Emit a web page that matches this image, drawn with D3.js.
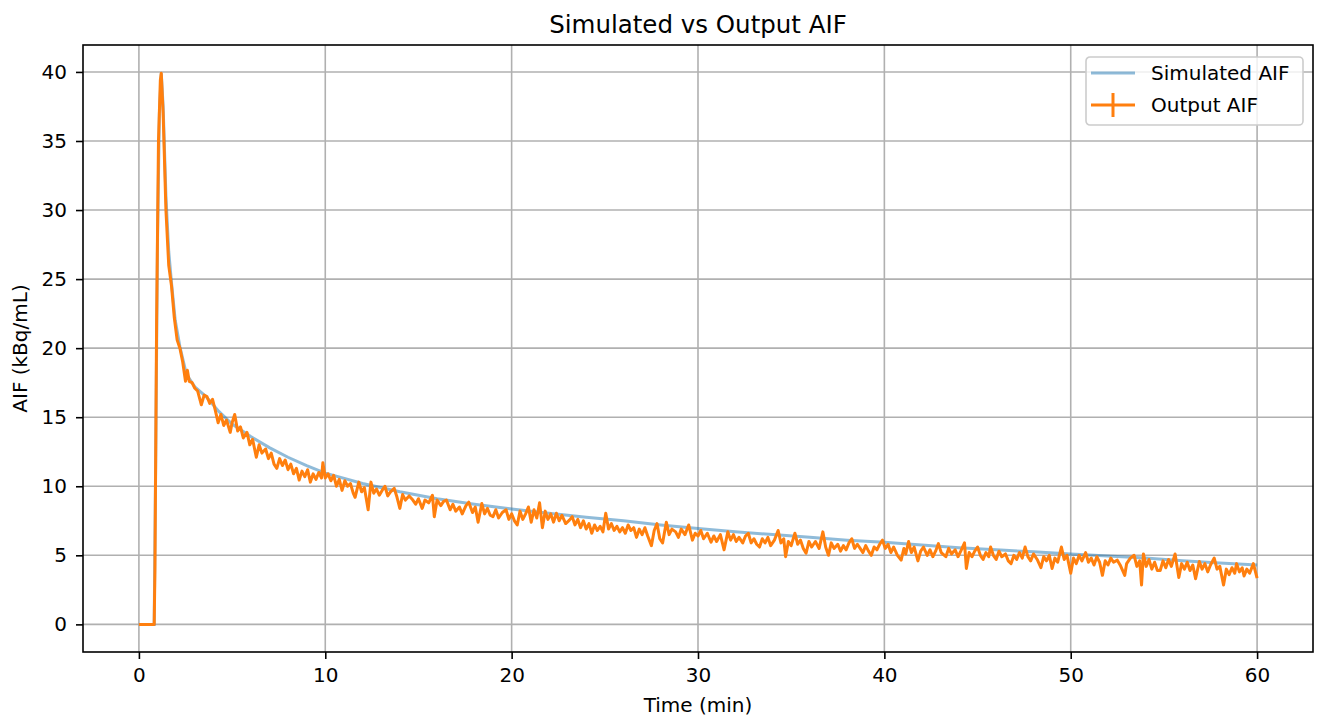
<!DOCTYPE html>
<html>
<head>
<meta charset="utf-8">
<script src="https://cdn.jsdelivr.net/npm/d3@7"></script>
<style>
  body { margin: 0; background: #fff; }
  svg { font-family: "DejaVu Sans", sans-serif; }
</style>
</head>
<body>
<svg id="chart" width="1321" height="722"></svg>
<script>
// chart text
const title = "Simulated vs Output AIF";
const xLabel = "Time (min)";
const yLabel = "AIF (kBq/mL)";
const seriesNames = ["Simulated AIF", "Output AIF"];

// tick values
const xTicks = [0, 10, 20, 30, 40, 50, 60];
const yTicks = [0, 5, 10, 15, 20, 25, 30, 35, 40];

// simulated (smooth) curve: [time, value]
const simulatedAif = [
  [0, 0], [0.4, 0], [0.82, 0], [0.9, 12], [1.0, 28], [1.1, 37], [1.2, 39.9], [1.3, 37.5],
  [1.45, 31], [1.6, 27], [1.75, 24.7], [1.95, 22], [2.2, 20.1], [2.55, 18.1], [3.0, 17.2],
  [3.6, 16.5], [4.3, 15.4], [5.0, 14.5], [6.0, 13.6], [7.0, 12.8], [8.0, 12.1], [9.0, 11.5],
  [10, 10.95], [12, 10.2], [14, 9.6], [16, 9.1], [18, 8.7], [20, 8.35], [22, 8.05],
  [24, 7.75], [26, 7.5], [28, 7.2], [30, 6.95], [32, 6.7], [34, 6.5], [36, 6.3], [38, 6.1],
  [40, 5.95], [42, 5.75], [44, 5.55], [46, 5.4], [48, 5.25], [50, 5.1], [52, 4.95],
  [54, 4.8], [56, 4.6], [58, 4.45], [60, 4.3]
];

// measured (noisy) output: [time, value]
const outputAif = [
  [0, 0], [0.2, 0], [0.4, 0], [0.6, 0], [0.82, 0], [0.86, 4], [0.95, 22], [1.05, 35], [1.15, 39.4],
  [1.2, 39.9], [1.3, 37], [1.45, 30], [1.6, 26], [1.75, 24.5], [1.9, 22.2], [2.05, 20.6],
  [2.2, 20.0], [2.35, 19.0], [2.5, 17.6], [2.6, 18.4], [2.7, 17.6], [2.85, 17.5], [3.0, 17.1],
  [3.15, 16.9], [3.35, 15.9], [3.5, 16.6], [3.65, 16.5], [3.8, 16.0], [3.95, 16.3], [4.1, 15.5],
  [4.25, 14.6], [4.4, 15.2], [4.55, 14.4], [4.7, 14.8], [4.9, 13.9], [5.0, 14.6], [5.14, 15.2],
  [5.3, 14.0], [5.45, 14.3], [5.6, 13.5], [5.8, 13.9], [5.95, 13.0], [6.1, 13.4], [6.3, 12.1],
  [6.45, 13.0], [6.6, 12.4], [6.8, 12.7], [6.95, 12.0], [7.1, 12.4], [7.25, 11.6], [7.4, 11.3],
  [7.55, 12.0], [7.7, 11.5], [7.85, 11.9], [8.0, 11.2], [8.15, 11.6], [8.3, 10.9], [8.45, 11.3],
  [8.6, 10.45], [8.75, 11.1], [8.9, 10.7], [9.05, 11.2], [9.2, 10.3], [9.35, 10.9], [9.5, 10.5],
  [9.65, 11.0], [9.8, 10.6], [9.87, 11.7], [10.0, 10.6], [10.15, 10.9], [10.3, 10.4], [10.45, 10.8],
  [10.6, 10.0], [10.75, 10.5], [10.9, 9.7], [11.05, 10.4], [11.2, 10.0], [11.35, 10.2], [11.5, 9.5],
  [11.6, 9.2], [11.8, 10.3], [11.95, 9.6], [12.1, 9.9], [12.3, 8.3], [12.45, 10.3], [12.6, 9.5],
  [12.75, 9.8], [12.9, 9.35], [13.05, 9.7], [13.2, 10.0], [13.35, 9.3], [13.5, 9.6], [13.7, 9.85],
  [13.85, 9.2], [14.0, 8.4], [14.15, 9.4], [14.3, 9.0], [14.5, 9.3], [14.7, 9.0], [14.85, 8.7],
  [15.0, 9.1], [15.2, 8.4], [15.35, 9.0], [15.55, 8.8], [15.75, 9.35], [15.85, 7.8], [16.0, 9.0],
  [16.2, 8.6], [16.35, 8.9], [16.5, 9.0], [16.7, 8.3], [16.85, 8.7], [17.0, 8.2], [17.2, 8.5],
  [17.35, 8.0], [17.55, 8.6], [17.7, 8.85], [17.9, 8.1], [18.05, 8.5], [18.2, 7.4], [18.4, 8.75],
  [18.55, 8.0], [18.7, 8.4], [18.85, 7.9], [19.0, 7.8], [19.15, 8.3], [19.3, 7.7], [19.5, 8.1],
  [19.7, 8.3], [19.85, 7.6], [20.0, 8.0], [20.15, 7.5], [20.3, 7.2], [20.45, 8.2], [20.6, 7.6],
  [20.75, 8.0], [20.9, 8.5], [21.05, 7.4], [21.2, 8.3], [21.35, 7.7], [21.5, 8.8], [21.65, 7.0],
  [21.8, 8.2], [21.95, 7.6], [22.1, 8.0], [22.25, 7.4], [22.4, 8.05], [22.55, 7.5], [22.7, 7.9],
  [22.9, 7.3], [23.1, 7.55], [23.25, 7.8], [23.4, 7.2], [23.55, 7.6], [23.7, 7.0], [23.85, 7.5],
  [24.0, 6.9], [24.15, 7.3], [24.3, 6.6], [24.45, 7.2], [24.6, 6.8], [24.75, 7.1], [24.9, 6.7],
  [25.05, 8.05], [25.2, 6.9], [25.35, 7.3], [25.5, 6.8], [25.65, 7.1], [25.8, 6.7], [25.95, 7.0],
  [26.1, 6.6], [26.25, 7.2], [26.4, 6.8], [26.55, 7.0], [26.7, 6.3], [26.85, 6.9], [27.0, 6.5],
  [27.15, 7.0], [27.3, 6.4], [27.5, 5.7], [27.65, 6.8], [27.8, 7.3], [27.95, 6.2], [28.1, 5.9],
  [28.3, 7.4], [28.45, 6.5], [28.6, 6.9], [28.8, 6.7], [28.95, 6.3], [29.1, 6.9], [29.3, 6.5],
  [29.5, 7.2], [29.7, 6.1], [29.85, 6.6], [30.0, 6.4], [30.15, 6.8], [30.3, 6.2], [30.5, 6.6],
  [30.7, 5.95], [30.85, 6.4], [31.0, 6.0], [31.2, 6.5], [31.4, 5.4], [31.6, 6.7], [31.75, 6.1],
  [31.9, 6.5], [32.05, 6.0], [32.2, 6.3], [32.4, 5.9], [32.55, 6.4], [32.7, 6.6], [32.85, 5.9],
  [33.0, 6.2], [33.15, 5.8], [33.3, 5.6], [33.45, 6.2], [33.6, 5.9], [33.75, 6.3], [33.9, 5.7],
  [34.1, 6.1], [34.3, 6.8], [34.45, 5.9], [34.6, 6.2], [34.7, 4.9], [34.85, 6.0], [35.0, 5.7],
  [35.2, 6.6], [35.35, 5.8], [35.5, 6.1], [35.65, 5.5], [35.8, 5.15], [35.95, 6.0], [36.1, 5.6],
  [36.3, 6.0], [36.5, 5.5], [36.7, 6.7], [36.85, 5.6], [37.0, 5.0], [37.15, 5.9], [37.3, 5.5],
  [37.5, 5.8], [37.65, 5.3], [37.8, 5.7], [37.95, 5.4], [38.1, 5.9], [38.25, 6.2], [38.4, 5.5],
  [38.55, 5.8], [38.7, 5.5], [38.85, 5.2], [39.0, 5.7], [39.15, 5.3], [39.3, 5.0], [39.45, 5.6],
  [39.6, 5.4], [39.75, 5.8], [39.9, 6.1], [40.05, 5.5], [40.2, 5.8], [40.35, 5.2], [40.5, 5.6],
  [40.7, 5.0], [40.9, 4.65], [41.05, 5.5], [41.15, 5.1], [41.3, 6.0], [41.45, 5.2], [41.6, 5.6],
  [41.8, 4.6], [41.95, 5.3], [42.1, 5.6], [42.3, 5.0], [42.45, 5.4], [42.6, 4.9], [42.75, 5.3],
  [42.9, 5.85], [43.05, 5.2], [43.3, 4.9], [43.45, 5.5], [43.6, 5.1], [43.8, 5.4], [43.95, 4.9],
  [44.1, 5.3], [44.3, 5.9], [44.4, 4.05], [44.55, 5.2], [44.7, 4.9], [44.85, 5.3], [45.0, 5.6],
  [45.15, 5.0], [45.3, 4.7], [45.45, 5.2], [45.6, 4.9], [45.7, 5.6], [45.85, 5.0], [46.0, 4.7],
  [46.15, 5.3], [46.3, 4.9], [46.5, 5.1], [46.65, 4.6], [46.8, 4.4], [46.95, 5.0], [47.1, 4.7],
  [47.25, 5.2], [47.4, 4.8], [47.55, 5.6], [47.7, 4.9], [47.85, 4.6], [48.0, 5.1], [48.2, 4.7],
  [48.4, 4.1], [48.55, 4.9], [48.7, 4.6], [48.85, 5.0], [49.0, 4.05], [49.15, 4.8], [49.3, 4.5],
  [49.5, 5.6], [49.65, 4.7], [49.8, 5.0], [50.0, 3.7], [50.15, 4.8], [50.3, 4.4], [50.45, 5.0],
  [50.6, 4.6], [50.8, 5.2], [50.95, 4.5], [51.1, 4.8], [51.25, 4.3], [51.4, 4.9], [51.55, 4.5],
  [51.7, 3.55], [51.85, 4.6], [52.0, 4.3], [52.15, 4.8], [52.3, 4.5], [52.5, 4.65], [52.65, 4.3],
  [52.9, 3.55], [53.0, 4.4], [53.2, 4.8], [53.4, 5.0], [53.55, 4.2], [53.7, 4.6], [53.8, 2.85],
  [53.9, 5.1], [54.05, 4.2], [54.2, 4.7], [54.35, 4.0], [54.5, 4.5], [54.65, 3.9], [54.8, 3.9],
  [54.95, 4.6], [55.1, 4.1], [55.25, 4.7], [55.4, 4.2], [55.6, 5.1], [55.8, 3.4], [55.95, 4.4],
  [56.1, 4.0], [56.25, 4.5], [56.4, 3.9], [56.55, 4.3], [56.7, 3.3], [56.9, 4.55], [57.05, 4.0],
  [57.2, 4.4], [57.35, 3.8], [57.5, 4.3], [57.7, 4.8], [57.85, 4.0], [58.0, 4.2], [58.2, 2.85],
  [58.35, 4.0], [58.5, 3.6], [58.65, 4.1], [58.8, 3.7], [58.9, 4.4], [59.05, 3.8], [59.2, 4.1],
  [59.3, 3.5], [59.45, 4.0], [59.6, 3.7], [59.8, 4.4], [60.0, 3.35]
];

const svg = d3.select("#chart");
const width = +svg.attr("width");
const height = +svg.attr("height");
const margin = { top: 45, right: 8, bottom: 70, left: 83 };
const innerWidth = width - margin.left - margin.right;
const innerHeight = height - margin.top - margin.bottom;

const blue = "#1f77b4";
const orange = "#ff7f0e";
const fontSize = 20;

const g = svg.append("g").attr("transform", `translate(${margin.left},${margin.top})`);

const xScale = d3.scaleLinear().domain([-3, 63]).range([0, innerWidth]);
const yScale = d3.scaleLinear().domain([-2.0, 41.95]).range([innerHeight, 0]);

// grid
g.append("g").selectAll("line").data(xTicks).join("line")
    .attr("x1", d => xScale(d)).attr("x2", d => xScale(d))
    .attr("y1", 0).attr("y2", innerHeight)
    .attr("stroke", "#b0b0b0").attr("stroke-width", 1.6);
g.append("g").selectAll("line").data(yTicks).join("line")
    .attr("x1", 0).attr("x2", innerWidth)
    .attr("y1", d => yScale(d)).attr("y2", d => yScale(d))
    .attr("stroke", "#b0b0b0").attr("stroke-width", 1.6);

const line = d3.line()
    .x(d => xScale(d[0]))
    .y(d => yScale(d[1]));

g.append("path")
    .datum(simulatedAif)
    .attr("fill", "none")
    .attr("stroke", blue)
    .attr("stroke-opacity", 0.5)
    .attr("stroke-width", 3)
    .attr("d", line);

g.append("path")
    .datum(outputAif)
    .attr("fill", "none")
    .attr("stroke", orange)
    .attr("stroke-width", 3)
    .attr("stroke-linejoin", "round")
    .attr("d", line);

// axes
const xAxis = d3.axisBottom(xScale).tickValues(xTicks).tickSize(7).tickPadding(7).tickFormat(d3.format("d"));
const yAxis = d3.axisLeft(yScale).tickValues(yTicks).tickSize(7).tickPadding(9).tickFormat(d3.format("d"));

const xAxisGroup = g.append("g").attr("transform", `translate(0,${innerHeight})`).call(xAxis);
const yAxisGroup = g.append("g").call(yAxis);

[xAxisGroup, yAxisGroup].forEach(ax => {
    ax.select(".domain").remove();
    ax.selectAll(".tick line").attr("stroke", "#000").attr("stroke-width", 1.6);
    ax.selectAll(".tick text").attr("font-size", fontSize).attr("fill", "#000")
        .attr("font-family", "DejaVu Sans, sans-serif");
});
xAxisGroup.selectAll(".tick text").attr("dy", "0.8em");

// frame
g.append("rect")
    .attr("width", innerWidth).attr("height", innerHeight)
    .attr("fill", "none").attr("stroke", "#000").attr("stroke-width", 1.6);

// labels
svg.append("text")
    .attr("x", margin.left + innerWidth / 2).attr("y", 33)
    .attr("text-anchor", "middle").attr("font-size", 24.5).attr("fill", "#000")
    .text(title);

svg.append("text")
    .attr("x", margin.left + innerWidth / 2).attr("y", 712)
    .attr("text-anchor", "middle").attr("font-size", fontSize).attr("fill", "#000")
    .text(xLabel);

svg.append("text")
    .attr("transform", `translate(27,${margin.top + innerHeight / 2}) rotate(-90)`)
    .attr("text-anchor", "middle").attr("font-size", fontSize).attr("fill", "#000")
    .text(yLabel);

// legend
const legend = svg.append("g").attr("transform", "translate(1086,57)");
legend.append("rect")
    .attr("width", 217).attr("height", 68).attr("rx", 4)
    .attr("fill", "#fff").attr("fill-opacity", 0.8)
    .attr("stroke", "#cccccc").attr("stroke-width", 1.6);

const rows = legend.selectAll(".row").data(seriesNames).join("g")
    .attr("class", "row")
    .attr("transform", (d, i) => `translate(0,${16 + i * 32})`);

rows.append("line")
    .attr("x1", 5).attr("x2", 49)
    .attr("stroke", (d, i) => i === 0 ? blue : orange)
    .attr("stroke-opacity", (d, i) => i === 0 ? 0.5 : 1)
    .attr("stroke-width", 3);

rows.filter((d, i) => i === 1).append("line")
    .attr("x1", 27).attr("x2", 27).attr("y1", -12).attr("y2", 12)
    .attr("stroke", orange).attr("stroke-width", 3);

rows.append("text")
    .attr("x", 65).attr("dy", "0.35em")
    .attr("font-size", fontSize).attr("fill", "#000")
    .text(d => d);
</script>
</body>
</html>
